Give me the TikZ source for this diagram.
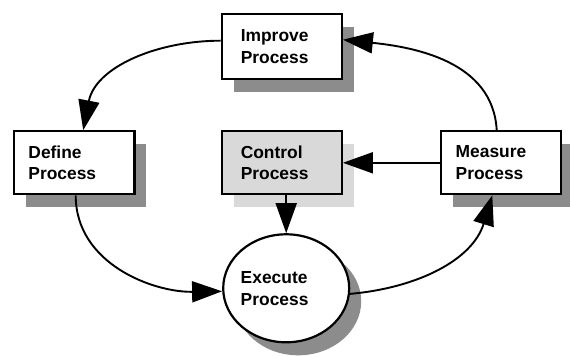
\documentclass[tikz,border=0pt]{standalone}
\usepackage{fontspec}
\setmainfont{Liberation Sans}
\usetikzlibrary{arrows.meta,shadows,shapes.geometric}
\definecolor{shdark}{HTML}{8C8C8C}
\definecolor{shlight}{HTML}{D9D9D9}
\begin{document}
\begin{tikzpicture}[x=1pt,y=1pt,
  lbl/.style={font=\fontsize{17.4}{21.7}\selectfont\bfseries, align=left},
  box/.style={lbl, draw=black, line width=2.2pt, fill=white, rectangle, inner ysep=0pt,
    drop shadow={shadow xshift=12pt, shadow yshift=-13pt, fill=shdark, opacity=1}},
  lightbox/.style={box, fill=shlight,
    drop shadow={shadow xshift=12pt, shadow yshift=-13pt, fill=shlight, opacity=1}},
  oval/.style={draw=black, line width=2.2pt, fill=white, ellipse, inner sep=0pt,
    minimum width=126pt, minimum height=108pt,
    drop shadow={shadow xshift=12pt, shadow yshift=-13pt, fill=shdark, opacity=1}},
  conn/.style={line width=1.9pt, -{Triangle[length=30pt,width=21pt]}}
]
\useasboundingbox[fill=white] (0,0) rectangle (570,356);

\node[box, text width=82pt, inner xsep=19pt, minimum height=65pt] (imp) at (281.8,309.3) {Improve\\Process};
\node[box, text width=91.5pt, inner xsep=14.5pt, minimum height=63pt] (def) at (74.2,193.2) {Define\\Process};
\node[lightbox, text width=82pt, inner xsep=19pt, minimum height=63pt] (con) at (281.8,193.2) {Control\\Process};
\node[box, text width=90pt, inner xsep=15pt, minimum height=63pt] (mea) at (500.7,193.2) {Measure\\Process};
\node[oval] (exe) at (286.2,67.7) {};
\node[lbl, inner sep=0pt] (exet) at (274.6,67.7) {Execute\\Process};

\draw[conn] ([yshift=6pt]imp.west) to[out=180, in=79] ([xshift=9pt]def.north);
\draw[conn] ([xshift=-4pt]mea.north) to[out=93, in=-6] ([yshift=7pt]imp.east);
\draw[conn] (mea.west) -- (con.east);
\draw[conn] (con.south -| exe.north) -- (exe.north);
\draw[conn] ([xshift=1.5pt]def.south) to[out=270, in=181] ([yshift=-3pt]exe.west);
\draw[conn] (exe.-5) to[out=5, in=253] ([xshift=-8.4pt]mea.south);
\end{tikzpicture}
\end{document}
